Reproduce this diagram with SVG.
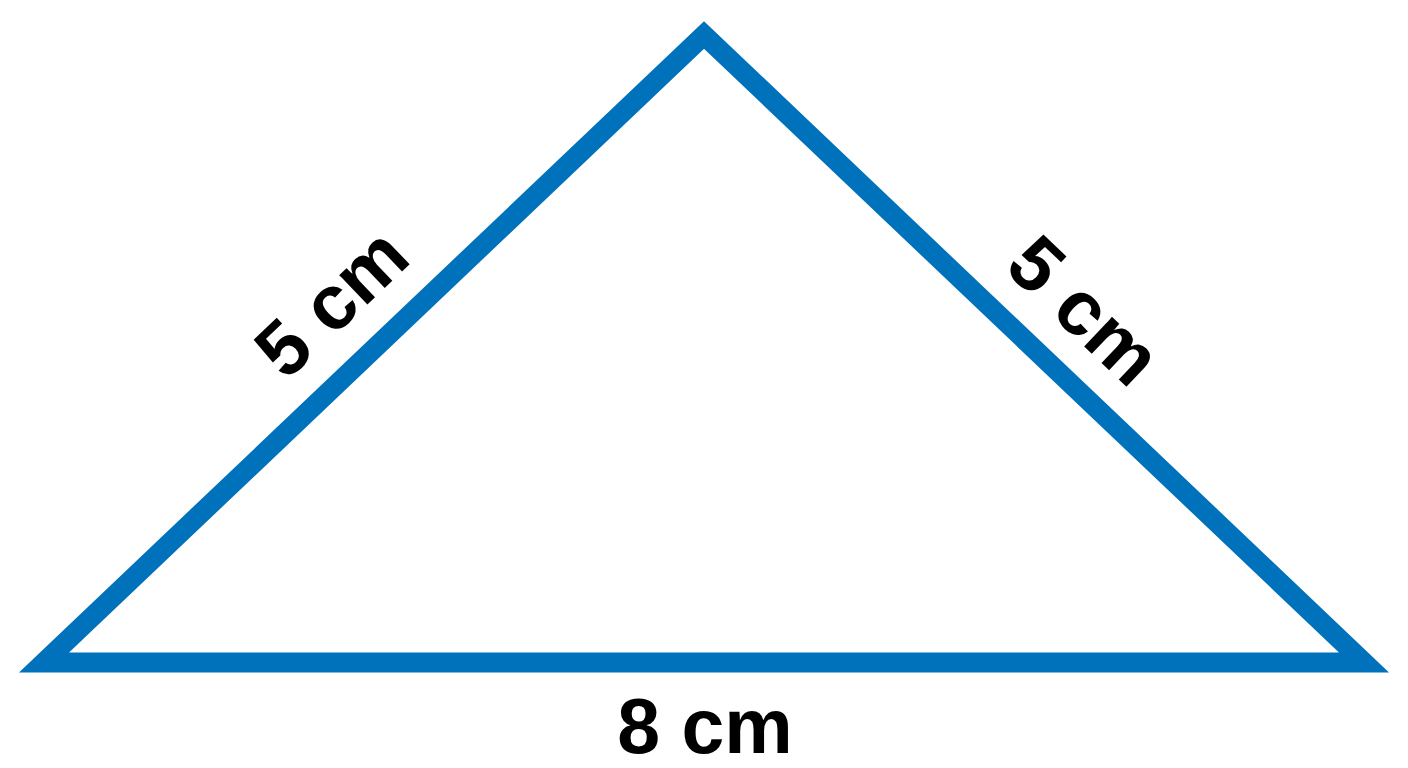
<svg xmlns="http://www.w3.org/2000/svg" width="1408" height="768" viewBox="0 0 1408 768">
<style>
.edge{fill:none;stroke:#0072BB;stroke-width:20;stroke-linejoin:miter;stroke-miterlimit:10}
.lbl{font-family:"Liberation Sans",Arial,sans-serif;font-weight:bold;font-size:77px;fill:#000;text-anchor:middle}
</style>
<rect width="1408" height="768" fill="#fff"/>
<g id="triangle">
<polygon class="edge" points="44,662.5 704,35 1364,662.5"/>
</g>
<g id="label-left" transform="translate(331,302) rotate(-43.6)">
<text class="lbl" x="0" y="27">5 cm</text>
</g>
<g id="label-right" transform="translate(1085,310) rotate(43.6)">
<text class="lbl" x="0" y="27">5 cm</text>
</g>
<g id="label-base">
<text class="lbl" x="705" y="753">8 cm</text>
</g>
</svg>
